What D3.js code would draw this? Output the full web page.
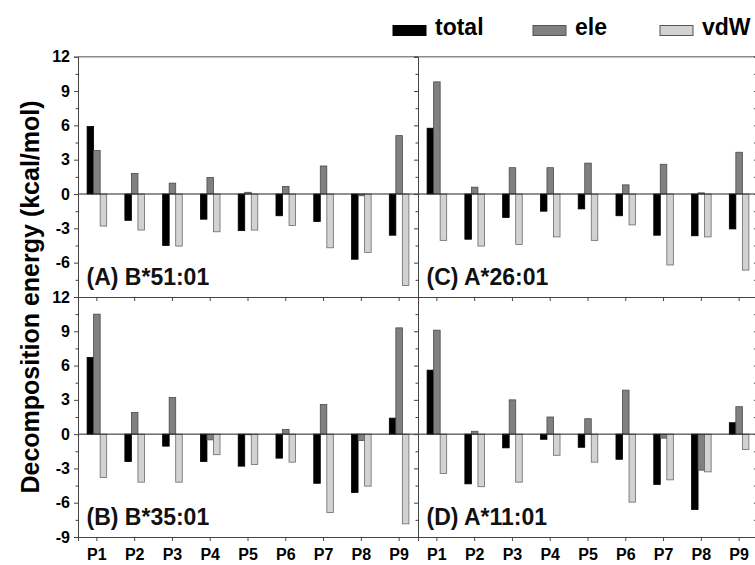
<!DOCTYPE html>
<html>
<head>
<meta charset="utf-8">
<script src="https://cdn.jsdelivr.net/npm/d3@7"></script>
<style>
  html, body { margin: 0; padding: 0; background: #fff; }
  svg { display: block; font-family: "Liberation Sans", Arial, sans-serif; }
</style>
</head>
<body>
<svg id="chart" width="755" height="565"></svg>
<script>
// Pockets P1..P9
const categories = ["P1", "P2", "P3", "P4", "P5", "P6", "P7", "P8", "P9"];
const seriesNames = ["total", "ele", "vdW"];
const yTicks = [-9, -6, -3, 0, 3, 6, 9, 12];
const yMinorTicks = [-7.5, -4.5, -1.5, 1.5, 4.5, 7.5, 10.5];

// (A) B*51:01
const totalA = [5.9, -2.3, -4.5, -2.2, -3.2, -1.9, -2.4, -5.7, -3.6];
const eleA   = [3.8, 1.8, 0.95, 1.45, 0.15, 0.65, 2.45, -0.15, 5.1];
const vdwA   = [-2.8, -3.15, -4.55, -3.3, -3.15, -2.75, -4.7, -5.1, -8.0];

// (B) B*35:01
const totalB = [6.7, -2.4, -1.05, -2.4, -2.8, -2.1, -4.3, -5.1, 1.4];
const eleB   = [10.5, 1.9, 3.2, -0.5, -0.05, 0.4, 2.6, -0.55, 9.3];
const vdwB   = [-3.8, -4.2, -4.2, -1.8, -2.65, -2.45, -6.85, -4.55, -7.85];

// (C) A*26:01
const totalC = [5.75, -3.95, -2.05, -1.5, -1.3, -1.9, -3.6, -3.65, -3.05];
const eleC   = [9.8, 0.6, 2.3, 2.3, 2.7, 0.8, 2.6, 0.1, 3.65];
const vdwC   = [-4.05, -4.55, -4.4, -3.75, -4.05, -2.7, -6.2, -3.75, -6.65];

// (D) A*11:01
const totalD = [5.6, -4.35, -1.2, -0.45, -1.15, -2.2, -4.4, -6.6, 1.0];
const eleD   = [9.1, 0.25, 3.0, 1.5, 1.35, 3.85, -0.35, -3.15, 2.4];
const vdwD   = [-3.45, -4.6, -4.2, -1.85, -2.45, -5.95, -4.0, -3.3, -1.35];

const fills   = { total: "#000000", ele: "#808080", vdW: "#d2d2d2" };
const strokes = { total: "#000000", ele: "#4a4a4a", vdW: "#6a6a6a" };

const panels = [
  { label: "(A) B*51:01", col: 0, row: 0, data: [totalA, eleA, vdwA] },
  { label: "(B) B*35:01", col: 0, row: 1, data: [totalB, eleB, vdwB] },
  { label: "(C) A*26:01", col: 1, row: 0, data: [totalC, eleC, vdwC] },
  { label: "(D) A*11:01", col: 1, row: 1, data: [totalD, eleD, vdwD] }
];

const svg = d3.select("#chart");
const colX = [[78, 418], [418, 758]];
const rowY = [[297, 56.7], [537, 297]];

const inner = d3.scaleBand().domain(seriesNames).range([-9.8, 9.8]).padding(0);

panels.forEach(p => {
  const [x0, x1] = colX[p.col];
  const [yb, yt] = rowY[p.row];
  const x = d3.scaleBand().domain(categories).range([x0, x1]).padding(0);
  const y = d3.scaleLinear().domain([-9, 12]).range([yb, yt]);
  const g = svg.append("g");

  // bars
  p.data.forEach((vals, si) => {
    const s = seriesNames[si];
    g.append("g").selectAll("rect")
      .data(vals)
      .join("rect")
      .attr("x", (d, i) => x(categories[i]) + x.bandwidth() / 2 + inner(s))
      .attr("width", inner.bandwidth())
      .attr("y", d => y(Math.max(0, d)))
      .attr("height", d => Math.abs(y(d) - y(0)))
      .attr("fill", fills[s])
      .attr("stroke", strokes[s])
      .attr("stroke-width", 0.8);
  });

  // zero line
  g.append("line")
    .attr("x1", x0).attr("x2", x1)
    .attr("y1", y(0)).attr("y2", y(0))
    .attr("stroke", "#222").attr("stroke-width", 1);

  // top frame line
  if (p.row === 0) {
    g.append("line")
      .attr("x1", x0).attr("x2", x1)
      .attr("y1", yt).attr("y2", yt)
      .attr("stroke", "#8a8a8a").attr("stroke-width", 1.6);
  }

  // left y axis (major + minor ticks, pointing outward)
  const yAxis = d3.axisLeft(y).tickValues(yTicks).tickSize(4).tickPadding(4)
    .tickFormat(d => d);
  const ya = g.append("g").attr("transform", `translate(${x0},0)`).call(yAxis);
  ya.select(".domain").attr("stroke", "#444");
  ya.selectAll(".tick line").attr("stroke", "#444");
  ya.selectAll(".tick text")
    .attr("font-size", 16).attr("font-weight", "bold").attr("fill", "#000")
    .style("display", d => (p.col === 0 && !(p.row === 0 && d === -9)) ? null : "none");

  const yMinor = d3.axisLeft(y).tickValues(yMinorTicks).tickSize(2.5).tickFormat("");
  const ym = g.append("g").attr("transform", `translate(${x0},0)`).call(yMinor);
  ym.select(".domain").remove();
  ym.selectAll(".tick line").attr("stroke", "#444");

  // right edge ticks of the right column
  if (p.col === 1) {
    const yr = d3.axisLeft(y).tickValues(yTicks.concat(yMinorTicks)).tickSize(3).tickFormat("");
    const yrg = g.append("g").attr("transform", `translate(${x1 - 1},0)`).call(yr);
    yrg.select(".domain").attr("stroke", "#444");
    yrg.selectAll(".tick line").attr("stroke", "#444");
  }

  // bottom x axis
  const xAxis = d3.axisBottom(x).tickSize(4).tickPadding(8);
  const xa = g.append("g").attr("transform", `translate(0,${yb})`).call(xAxis);
  xa.select(".domain").attr("stroke", "#444");
  xa.selectAll(".tick line").attr("stroke", "#444");
  xa.selectAll(".tick text")
    .attr("font-size", 16).attr("font-weight", "bold").attr("fill", "#000")
    .style("display", p.row === 1 ? null : "none");

  // panel label
  g.append("text")
    .attr("x", x0 + 8.5).attr("y", yb - 12)
    .attr("font-size", 23).attr("font-weight", "bold").attr("fill", "#111")
    .text(p.label);
});

// y axis title
svg.append("text")
  .attr("transform", "translate(39,297) rotate(-90)")
  .attr("text-anchor", "middle")
  .attr("font-size", 25).attr("font-weight", "bold").attr("fill", "#000")
  .text("Decomposition energy (kcal/mol)");

// legend
const legendX = [393, 533, 660];
const legend = svg.append("g");
seriesNames.forEach((s, i) => {
  legend.append("rect")
    .attr("x", legendX[i]).attr("y", 25.5)
    .attr("width", 33).attr("height", 10)
    .attr("fill", fills[s]).attr("stroke", s === "total" ? "#000" : "#555")
    .attr("stroke-width", 1);
  legend.append("text")
    .attr("x", legendX[i] + 42).attr("y", 35)
    .attr("font-size", 23).attr("font-weight", "bold").attr("fill", "#000")
    .text(s);
});
</script>
</body>
</html>
